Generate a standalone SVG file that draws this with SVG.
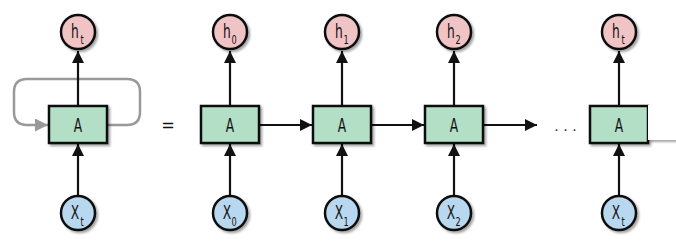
<svg xmlns="http://www.w3.org/2000/svg" width="676" height="251" viewBox="0 0 676 251">
<style>
.h{fill:#f0c3c5;stroke:#111;stroke-width:2.5}
.x{fill:#b8d8ef;stroke:#111;stroke-width:2.5}
.a{fill:#b2dfc5;stroke:#111;stroke-width:2.5}
.t{font-family:"DejaVu Sans Condensed","DejaVu Sans",sans-serif;fill:#111;text-anchor:middle}
.big{font-size:20px}
.sub{font-size:13px}
.ln{stroke:#111;stroke-width:2.2;fill:none}
</style>
<defs>
<filter id="sh" x="-20%" y="-20%" width="150%" height="150%">
<feDropShadow dx="2" dy="2" stdDeviation="1.2" flood-color="#000" flood-opacity="0.35"/>
</filter>
<marker id="ar" viewBox="0 0 12 12" refX="12" refY="6" markerWidth="12" markerHeight="12" markerUnits="userSpaceOnUse" orient="auto">
<path d="M0,0 L12,6 L0,12 Z" fill="#111"/>
</marker>
<marker id="arg" viewBox="0 0 12 12" refX="12" refY="6" markerWidth="13" markerHeight="13" markerUnits="userSpaceOnUse" orient="auto">
<path d="M0,0 L12,6 L0,12 Z" fill="#999"/>
</marker>
</defs>
<rect width="676" height="251" fill="#fff"/>
<g id="connectors">
<path d="M107,125 H127 Q140,125 140,112 V92 Q140,79 127,79 H27 Q14,79 14,92 V112 Q14,125 27,125 H48" fill="none" stroke="#999" stroke-width="2.5" marker-end="url(#arg)"/>
<line class="ln" x1="78" y1="106" x2="78" y2="51" marker-end="url(#ar)"/>
<line class="ln" x1="78" y1="195" x2="78" y2="144" marker-end="url(#ar)"/>
<line class="ln" x1="230" y1="106" x2="230" y2="51" marker-end="url(#ar)"/>
<line class="ln" x1="230" y1="195" x2="230" y2="144" marker-end="url(#ar)"/>
<line class="ln" x1="342" y1="106" x2="342" y2="51" marker-end="url(#ar)"/>
<line class="ln" x1="342" y1="195" x2="342" y2="144" marker-end="url(#ar)"/>
<line class="ln" x1="454" y1="106" x2="454" y2="51" marker-end="url(#ar)"/>
<line class="ln" x1="454" y1="195" x2="454" y2="144" marker-end="url(#ar)"/>
<line class="ln" x1="619" y1="106" x2="619" y2="51" marker-end="url(#ar)"/>
<line class="ln" x1="619" y1="195" x2="619" y2="144" marker-end="url(#ar)"/>
<line class="ln" x1="260" y1="125" x2="312" y2="125" marker-end="url(#ar)"/>
<line class="ln" x1="372" y1="125" x2="424" y2="125" marker-end="url(#ar)"/>
<line class="ln" x1="484" y1="125" x2="537" y2="125" marker-end="url(#ar)"/>
</g>
<text class="t" x="168" y="131" font-size="18">=</text>
<text class="t" x="568" y="131" font-size="14" letter-spacing="5">...</text>
<g id="A0"><rect class="a" x="49" y="106" width="58" height="37" filter="url(#sh)"/><text class="t big" transform="translate(78,132) scale(0.68,1)">A</text></g>
<g id="A1"><rect class="a" x="201" y="106" width="58" height="37" filter="url(#sh)"/><text class="t big" transform="translate(230,132) scale(0.68,1)">A</text></g>
<g id="A2"><rect class="a" x="313" y="106" width="58" height="37" filter="url(#sh)"/><text class="t big" transform="translate(342,132) scale(0.68,1)">A</text></g>
<g id="A3"><rect class="a" x="425" y="106" width="58" height="37" filter="url(#sh)"/><text class="t big" transform="translate(454,132) scale(0.68,1)">A</text></g>
<g id="A4"><rect class="a" x="590" y="106" width="58" height="37" filter="url(#sh)"/><text class="t big" transform="translate(619,132) scale(0.68,1)">A</text>
<rect x="648" y="105" width="28" height="35" fill="#fff" filter="url(#sh)"/></g>
<g id="ht0"><circle class="h" cx="78" cy="32" r="17" filter="url(#sh)"/><text class="t big" transform="translate(75,38) scale(0.68,1)">h</text><text class="t sub" transform="translate(82,44) scale(0.7,1)">t</text></g>
<g id="h0"><circle class="h" cx="230" cy="32" r="17" filter="url(#sh)"/><text class="t big" transform="translate(227,38) scale(0.68,1)">h</text><text class="t sub" transform="translate(234,44) scale(0.7,1)">0</text></g>
<g id="h1"><circle class="h" cx="342" cy="32" r="17" filter="url(#sh)"/><text class="t big" transform="translate(339,38) scale(0.68,1)">h</text><text class="t sub" transform="translate(346,44) scale(0.7,1)">1</text></g>
<g id="h2"><circle class="h" cx="454" cy="32" r="17" filter="url(#sh)"/><text class="t big" transform="translate(451,38) scale(0.68,1)">h</text><text class="t sub" transform="translate(458,44) scale(0.7,1)">2</text></g>
<g id="ht"><circle class="h" cx="619" cy="32" r="17" filter="url(#sh)"/><text class="t big" transform="translate(616,38) scale(0.68,1)">h</text><text class="t sub" transform="translate(623,44) scale(0.7,1)">t</text></g>
<g id="xt0"><circle class="x" cx="78" cy="213" r="17" filter="url(#sh)"/><text class="t big" transform="translate(75,219) scale(0.68,1)">X</text><text class="t sub" transform="translate(82,226) scale(0.7,1)">t</text></g>
<g id="x0"><circle class="x" cx="230" cy="213" r="17" filter="url(#sh)"/><text class="t big" transform="translate(227,219) scale(0.68,1)">X</text><text class="t sub" transform="translate(234,226) scale(0.7,1)">0</text></g>
<g id="x1"><circle class="x" cx="342" cy="213" r="17" filter="url(#sh)"/><text class="t big" transform="translate(339,219) scale(0.68,1)">X</text><text class="t sub" transform="translate(346,226) scale(0.7,1)">1</text></g>
<g id="x2"><circle class="x" cx="454" cy="213" r="17" filter="url(#sh)"/><text class="t big" transform="translate(451,219) scale(0.68,1)">X</text><text class="t sub" transform="translate(458,226) scale(0.7,1)">2</text></g>
<g id="xt"><circle class="x" cx="619" cy="213" r="17" filter="url(#sh)"/><text class="t big" transform="translate(616,219) scale(0.68,1)">X</text><text class="t sub" transform="translate(623,226) scale(0.7,1)">t</text></g>
</svg>
